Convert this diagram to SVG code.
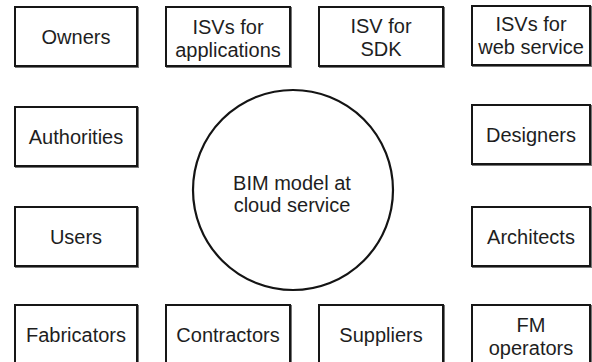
<svg xmlns="http://www.w3.org/2000/svg" width="592" height="362" viewBox="0 0 592 362">
  <defs>
    <filter id="edge" x="-5%" y="-5%" width="115%" height="115%">
      <feDropShadow dx="1" dy="1" stdDeviation="0.4" flood-color="#555" flood-opacity="0.8"/>
    </filter>
  </defs>
  <style>
    .box { fill: #ffffff; stroke: #141414; stroke-width: 2; filter: url(#edge); }
    .hub { fill: #ffffff; stroke: #141414; stroke-width: 2.2; }
    .lbl { font-family: "Liberation Sans", Arial, sans-serif; font-size: 20px; fill: #1e1e1e; text-anchor: middle; }
  </style>
  <rect width="592" height="362" fill="#ffffff"/>

  <!-- central hub -->
  <g id="hub">
    <circle class="hub" cx="293" cy="190" r="100"/>
    <text class="lbl" x="292" y="190">BIM model at</text>
    <text class="lbl" x="292" y="212">cloud service</text>
  </g>

  <!-- top row -->
  <g id="owners">
    <rect class="box" x="15" y="7" width="122" height="59"/>
    <text class="lbl" x="76" y="44">Owners</text>
  </g>
  <g id="isv-apps">
    <rect class="box" x="166" y="7" width="124" height="59"/>
    <text class="lbl" x="228" y="34">ISVs for</text>
    <text class="lbl" x="228" y="57">applications</text>
  </g>
  <g id="isv-sdk">
    <rect class="box" x="319" y="7" width="124" height="59"/>
    <text class="lbl" x="381" y="33">ISV for</text>
    <text class="lbl" x="381" y="56">SDK</text>
  </g>
  <g id="isv-web">
    <rect class="box" x="472" y="6" width="118" height="59"/>
    <text class="lbl" x="531" y="31">ISVs for</text>
    <text class="lbl" x="531" y="54">web service</text>
  </g>

  <!-- left column -->
  <g id="authorities">
    <rect class="box" x="15" y="107" width="122" height="59"/>
    <text class="lbl" x="76" y="144">Authorities</text>
  </g>
  <g id="users">
    <rect class="box" x="15" y="207" width="122" height="59"/>
    <text class="lbl" x="76" y="244">Users</text>
  </g>

  <!-- right column -->
  <g id="designers">
    <rect class="box" x="472" y="105" width="118" height="59"/>
    <text class="lbl" x="531" y="142">Designers</text>
  </g>
  <g id="architects">
    <rect class="box" x="472" y="207" width="118" height="59"/>
    <text class="lbl" x="531" y="244">Architects</text>
  </g>

  <!-- bottom row -->
  <g id="fabricators">
    <rect class="box" x="15" y="305" width="122" height="62"/>
    <text class="lbl" x="76" y="342">Fabricators</text>
  </g>
  <g id="contractors">
    <rect class="box" x="166" y="305" width="124" height="62"/>
    <text class="lbl" x="228" y="342">Contractors</text>
  </g>
  <g id="suppliers">
    <rect class="box" x="319" y="305" width="124" height="62"/>
    <text class="lbl" x="381" y="342">Suppliers</text>
  </g>
  <g id="fm-operators">
    <rect class="box" x="472" y="305" width="118" height="62"/>
    <text class="lbl" x="531" y="332">FM</text>
    <text class="lbl" x="531" y="355">operators</text>
  </g>

  <g id="connectors"/>
</svg>
